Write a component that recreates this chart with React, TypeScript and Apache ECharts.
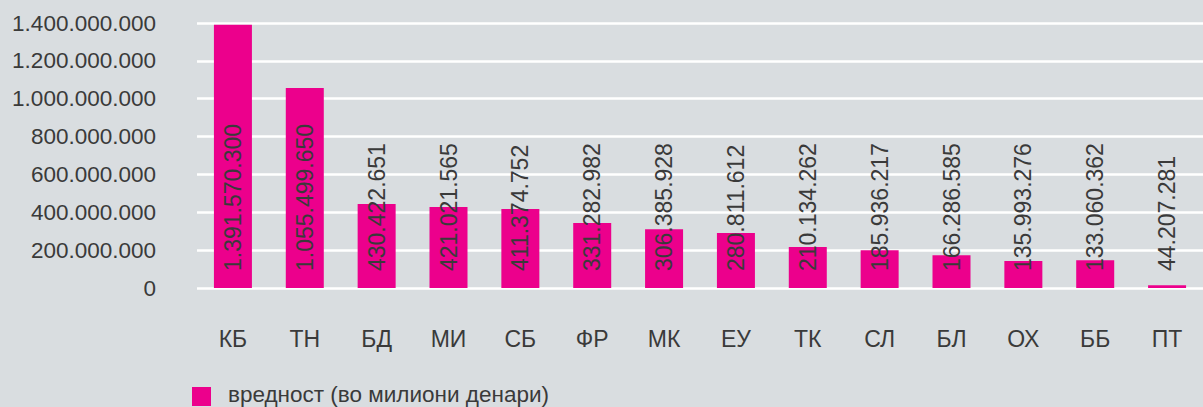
import React, { useEffect, useRef } from "react";
import * as echarts from "echarts";

const categories = ["КБ", "ТН", "БД", "МИ", "СБ", "ФР", "МК", "ЕУ", "ТК", "СЛ", "БЛ", "ОХ", "ББ", "ПТ"];
// bar heights as drawn in the picture
const barValues = [1391000000, 1057000000, 444000000, 428000000, 418000000, 343000000, 311000000, 290000000, 216000000, 200000000, 173000000, 142000000, 147000000, 14000000];
// numbers printed on the bars
const barLabels = [1391570300, 1055499650, 430422651, 421021565, 411374752, 331282982, 306385928, 280811612, 210134262, 185936217, 166286585, 135993276, 133060362, 44207281];
const seriesName = "вредност (во милиони денари)";

const fmt = (v: number) => String(Math.round(v)).replace(/\B(?=(\d{3})+(?!\d))/g, ".");

export default function App() {
  const ref = useRef<HTMLDivElement>(null);
  useEffect(() => {
    const chart = echarts.init(ref.current!, undefined, { renderer: "svg" });
    const font = "'Liberation Sans', Arial, sans-serif";
    chart.setOption({
      animation: false,
      backgroundColor: "#d9dde0",
      textStyle: { fontFamily: font },
      grid: { left: 197, right: -3, top: 23, bottom: 119, containLabel: false },
      legend: {
        left: 192,
        top: 387,
        itemWidth: 19,
        itemHeight: 19,
        icon: "rect",
        padding: 0,
        formatter: () => "",
        data: [seriesName],
      },
      graphic: [
        {
          type: "text",
          left: 228,
          top: 383,
          style: {
            text: seriesName,
            fontSize: 22.5,
            lineHeight: 22,
            fill: "#3a3a3a",
            fontFamily: font,
          },
        },
      ],
      xAxis: {
        type: "category",
        data: categories,
        axisLine: { show: false },
        axisTick: { show: false },
        axisLabel: { fontSize: 23, color: "#3a3a3a", margin: 39, fontFamily: font },
      },
      yAxis: {
        type: "value",
        min: 0,
        max: 1400000000,
        interval: 200000000,
        axisLine: { show: false },
        axisTick: { show: false },
        splitLine: { lineStyle: { color: "#ffffff", width: 2.5 } },
        axisLabel: { fontSize: 22.5, color: "#3a3a3a", margin: 41, fontFamily: font, formatter: (v: number) => fmt(v) },
      },
      series: [
        {
          name: seriesName,
          type: "bar",
          data: barValues,
          barWidth: 38,
          itemStyle: { color: "#ec008c" },
          label: {
            show: true,
            position: "insideBottom",
            distance: 17,
            rotate: 90,
            align: "left",
            verticalAlign: "middle",
            fontSize: 23,
            color: "#3a3a3a",
            fontFamily: font,
            formatter: (p: any) => fmt(barLabels[p.dataIndex]),
          },
        },
      ],
    });
    return () => chart.dispose();
  }, []);
  return <div ref={ref} style={{ position: "fixed", left: 0, top: 0, width: 1203, height: 407 }} />;
}
